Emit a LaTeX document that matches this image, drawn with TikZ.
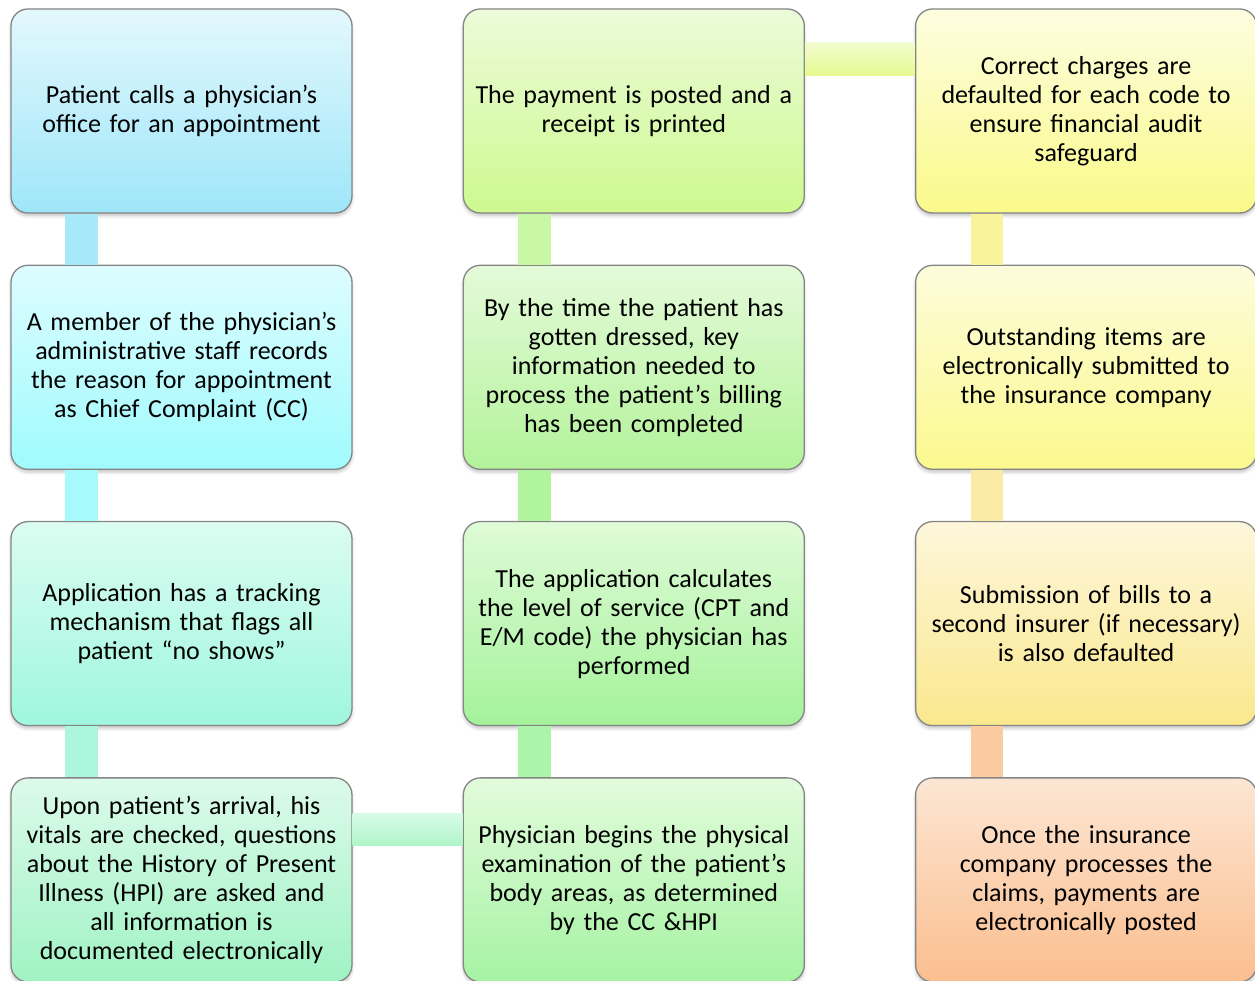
\documentclass[tikz,border=0pt]{standalone}
\usepackage{fontspec}
\setmainfont{Carlito}[WordSpace=0.8]
\usepackage{tikz}
\usetikzlibrary{positioning,calc,shadows.blur}
\definecolor{edgegray}{HTML}{858585}
\definecolor{callT}{HTML}{E3F8FD}\definecolor{callB}{HTML}{9EE6F9}
\definecolor{recT}{HTML}{DDFCFF}\definecolor{recB}{HTML}{A0FBFD}
\definecolor{flagT}{HTML}{DBFCF1}\definecolor{flagB}{HTML}{9FF7DD}
\definecolor{arrT}{HTML}{DCFAEA}\definecolor{arrB}{HTML}{A0F3C4}
\definecolor{postT}{HTML}{ECFBD9}\definecolor{postB}{HTML}{CDF98F}
\definecolor{billT}{HTML}{E4FAD9}\definecolor{billB}{HTML}{B3F39A}
\definecolor{lvlT}{HTML}{DFFBD7}\definecolor{lvlB}{HTML}{A4F29A}
\definecolor{examT}{HTML}{E2FBDC}\definecolor{examB}{HTML}{A6F3A3}
\definecolor{chgT}{HTML}{FDFDE0}\definecolor{chgB}{HTML}{FAFA8A}
\definecolor{subT}{HTML}{FDFCDB}\definecolor{subB}{HTML}{FBF98E}
\definecolor{secT}{HTML}{FDF6DB}\definecolor{secB}{HTML}{FAE88D}
\definecolor{payT}{HTML}{FCE6D3}\definecolor{payB}{HTML}{FBBE8F}
\definecolor{barA}{HTML}{A8E9F9}\definecolor{barB}{HTML}{A6FAFC}\definecolor{barC}{HTML}{ADF6DE}
\definecolor{barD}{HTML}{AAF5AA}\definecolor{barE}{HTML}{B0F49E}\definecolor{barF}{HTML}{C8F8A4}
\definecolor{barG}{HTML}{F9F49C}\definecolor{barH}{HTML}{FAECA6}\definecolor{barI}{HTML}{FBCBA0}
\definecolor{lowT}{HTML}{D8FBE8}\definecolor{lowB}{HTML}{B0F5C8}
\definecolor{topT}{HTML}{F2FCD0}\definecolor{topB}{HTML}{E6FA90}
\tikzset{
  box/.style={draw=edgegray,line width=1.3pt,rounded corners=17pt,top color=#1T,bottom color=#1B,
    minimum width=341pt,minimum height=204pt,inner sep=0pt,text width=336pt,align=center,
    font=\fontsize{26}{29}\selectfont,
    blur shadow={shadow xshift=0pt,shadow yshift=-3pt,shadow blur radius=3pt,shadow opacity=22}},
  vbar/.style={fill=#1},
  hbar/.style={top color=#1T,bottom color=#1B},
}

\begin{document}
\begin{tikzpicture}[x=1pt,y=1pt]
 \useasboundingbox (0,0) rectangle (1255,980);
 \node[box=call] (call) at (181.5,869) {Patient calls a physician's\\office for an appointment};
 \node[box=rec,below=51pt of call] (rec) {A member of the physician's\\administrative staff records\\the reason for appointment\\as Chief Complaint (CC)};
 \node[box=flag,below=51pt of rec] (flag) {Application has a tracking\\mechanism that flags all\\patient ``no shows''};
 \node[box=arr,below=51pt of flag] (arr) {Upon patient's arrival, his\\vitals are checked, questions\\about the History of Present\\Illness (HPI) are asked and\\all information is\\documented electronically};
 \node[box=post,right=110pt of call] (post) {The payment is posted and a\\receipt is printed};
 \node[box=bill,below=51pt of post] (bill) {By the time the patient has\\gotten dressed, key\\information needed to\\process the patient's billing\\has been completed};
 \node[box=lvl,below=51pt of bill] (lvl) {The application calculates\\the level of service (CPT and\\E/M code) the physician has\\performed};
 \node[box=exam,below=51pt of lvl] (exam) {Physician begins the physical\\examination of the patient's\\body areas, as determined\\by the CC \&HPI};
 \node[box=chg,right=110pt of post] (chg) {Correct charges are\\defaulted for each code to\\ensure financial audit\\safeguard};
 \node[box=sub,below=51pt of chg] (sub) {Outstanding items are\\electronically submitted to\\the insurance company};
 \node[box=sec,below=51pt of sub] (sec) {Submission of bills to a\\second insurer (if necessary)\\is also defaulted};
 \node[box=pay,below=51pt of sec] (pay) {Once the insurance\\company processes the\\claims, payments are\\electronically posted};
 \fill[vbar=barA] ($(call.south west)+(54.5pt,0)$) rectangle ($(rec.north west)+(87.5pt,0)$);
 \fill[vbar=barB] ($(rec.south west)+(54.5pt,0)$) rectangle ($(flag.north west)+(87.5pt,0)$);
 \fill[vbar=barC] ($(flag.south west)+(54.5pt,0)$) rectangle ($(arr.north west)+(87.5pt,0)$);
 \shade[hbar=low] ($(arr.north east)+(0,-36pt)$) rectangle ($(exam.north west)+(0,-68pt)$);
 \fill[vbar=barD] ($(lvl.south west)+(55pt,0)$) rectangle ($(exam.north west)+(88pt,0)$);
 \fill[vbar=barE] ($(bill.south west)+(55pt,0)$) rectangle ($(lvl.north west)+(88pt,0)$);
 \fill[vbar=barF] ($(post.south west)+(55pt,0)$) rectangle ($(bill.north west)+(88pt,0)$);
 \shade[hbar=top] ($(post.north east)+(0,-34pt)$) rectangle ($(chg.north west)+(0,-67pt)$);
 \fill[vbar=barG] ($(chg.south west)+(56pt,0)$) rectangle ($(sub.north west)+(88pt,0)$);
 \fill[vbar=barH] ($(sub.south west)+(56pt,0)$) rectangle ($(sec.north west)+(88pt,0)$);
 \fill[vbar=barI] ($(sec.south west)+(56pt,0)$) rectangle ($(pay.north west)+(88pt,0)$);
\end{tikzpicture}
\end{document}
